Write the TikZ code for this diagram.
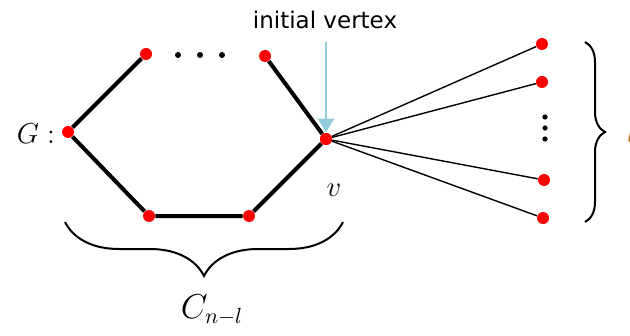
\documentclass[tikz,border=0pt]{standalone}
\usepackage{fontspec}
\usetikzlibrary{arrows.meta, decorations.pathreplacing}
\definecolor{myBlue}{RGB}{146,204,220}
\definecolor{myRed}{RGB}{255,0,0}
\definecolor{myBrown}{RGB}{190,110,40}
\newfontfamily\labelfont{DejaVu Sans}
\tikzset{
  vtx/.style={circle, fill=myRed, inner sep=0pt, minimum size=6pt},
  dotsym/.style={circle, fill=black, inner sep=0pt, minimum size=3pt},
  cycleedge/.style={line width=2pt, black},
  fanedge/.style={line width=0.7pt, black},
  bracedec/.style={decorate, line width=1pt}
}

\begin{document}
\begin{tikzpicture}[x=0.5pt, y=-0.5pt]
			\useasboundingbox (0,0) rectangle (630,336);
			% Cycle part
			\node[vtx] (g) at (68,132) {};
			\node[vtx] (tl) at (146,54) {};
			\node[vtx] (tr) at (265,56) {};
			\node[vtx] (v) at (326,139) {};
			\node[vtx] (br) at (249,216) {};
			\node[vtx] (bl) at (149,216) {};
			\foreach \x in {178,200,222} \node[dotsym] at (\x,55) {};
			\draw[cycleedge] (tl) -- (g) -- (bl) -- (br) -- (v) -- (tr);
			% Pendant fan
			\node[vtx] (p1) at (542,44) {};
			\node[vtx] (p2) at (542,82) {};
			\node[vtx] (p3) at (544,180) {};
			\node[vtx] (p4) at (543,218) {};
			\foreach \y in {117,128,139} \node[dotsym, minimum size=2.6pt] at (545,\y) {};
			\foreach \p in {p1,p2,p3,p4} \draw[fanedge] (v) -- (\p);
			\node[vtx] at (v) {};
			% Labels
			\node (glabel) at (36,134) {\fontsize{14}{16}\selectfont $G:$};
			\node (vlabel) at (334,190) {\fontsize{14}{16}\selectfont $v$};
			\node (cap) at (325,20) {\labelfont\fontsize{11.5}{14}\selectfont initial vertex};
			\draw[-{Triangle[length=7pt, width=8pt]}, line width=1.2pt, myBlue] (cap.south -| v) ++(0,6) coordinate (ctop) -- (v.north);
			% Braces
			\draw[bracedec, decoration={brace, amplitude=27pt}] (343,222) -- (65,222);
			\node (cn) at (212,310) {\fontsize{16}{18}\selectfont $C_{n-l}$};
			\draw[bracedec, decoration={brace, amplitude=10pt}] (585,42) -- (585,222);
			\node[myBrown, anchor=west] (l) at (620,133) {\fontsize{14}{16}\selectfont $l$};
		\end{tikzpicture}
\end{document}
